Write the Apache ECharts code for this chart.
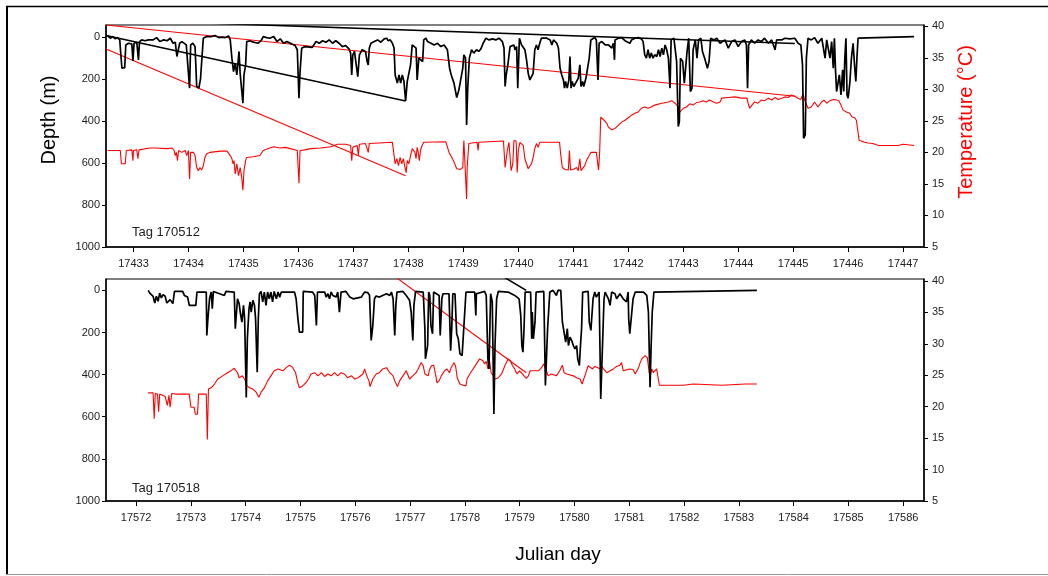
<!DOCTYPE html>
<html><head><meta charset="utf-8">
<script src="https://cdn.jsdelivr.net/npm/echarts@6/dist/echarts.min.js"></script>
<style>html,body{margin:0;padding:0;background:#fff}#c{width:1048px;height:576px}</style>
</head><body><div id="c"></div>
<script>
// ---- tick labels ----
const topDays = [17433,17434,17435,17436,17437,17438,17439,17440,17441,17442,17443,17444,17445,17446,17447];
const botDays = [17572,17573,17574,17575,17576,17577,17578,17579,17580,17581,17582,17583,17584,17585,17586];
const depthTicks = [0,200,400,600,800,1000];
const tempTicks = [5,10,15,20,25,30,35,40];

// ---- Tag 170512 : depth (m) ----
const tag512Depth = [[17432.53,-6],[17432.58,5],[17432.62,-3],[17432.67,8],[17432.71,2],[17432.75,13],[17432.77,84],[17432.79,148],[17432.82,151],[17432.84,145],[17432.86,37],[17432.91,29],[17432.97,33],[17432.99,113],[17433.01,29],[17433.06,24],[17433.09,108],[17433.11,21],[17433.15,13],[17433.21,17],[17433.27,13],[17433.30,5],[17433.36,13],[17433.42,2],[17433.48,21],[17433.55,13],[17433.61,17],[17433.67,5],[17433.72,29],[17433.76,24],[17433.79,92],[17433.81,100],[17433.84,29],[17433.88,21],[17433.96,37],[17433.99,40],[17434.02,243],[17434.04,37],[17434.08,29],[17434.12,45],[17434.15,235],[17434.19,243],[17434.22,196],[17434.25,204],[17434.27,5],[17434.33,-3],[17434.42,-3],[17434.48,-8],[17434.55,2],[17434.61,0],[17434.67,2],[17434.73,-6],[17434.76,13],[17434.79,100],[17434.82,164],[17434.85,124],[17434.88,180],[17434.92,68],[17434.94,172],[17434.97,164],[17434.99,315],[17435.01,180],[17435.04,132],[17435.06,21],[17435.12,17],[17435.18,24],[17435.27,29],[17435.33,13],[17435.36,-3],[17435.42,2],[17435.48,5],[17435.55,-3],[17435.61,21],[17435.67,8],[17435.73,29],[17435.79,21],[17435.88,33],[17435.94,40],[17435.98,60],[17436.01,291],[17436.03,164],[17436.06,52],[17436.12,45],[17436.25,49],[17436.28,37],[17436.32,21],[17436.38,29],[17436.44,17],[17436.50,24],[17436.56,13],[17436.62,29],[17436.68,17],[17436.74,29],[17436.80,45],[17436.86,40],[17436.92,56],[17436.95,76],[17436.97,180],[17436.99,84],[17437.02,68],[17437.05,76],[17437.08,188],[17437.11,84],[17437.16,60],[17437.22,68],[17437.25,116],[17437.27,132],[17437.29,52],[17437.32,29],[17437.38,21],[17437.44,13],[17437.50,24],[17437.56,8],[17437.61,5],[17437.63,17],[17437.67,13],[17437.71,29],[17437.74,52],[17437.76,180],[17437.80,219],[17437.83,180],[17437.86,219],[17437.89,180],[17437.92,211],[17437.95,304],[17437.98,211],[17438.01,211],[17438.04,132],[17438.07,37],[17438.10,37],[17438.14,52],[17438.16,204],[17438.19,100],[17438.22,100],[17438.26,116],[17438.28,13],[17438.32,5],[17438.35,21],[17438.41,29],[17438.47,37],[17438.53,29],[17438.59,45],[17438.65,37],[17438.71,60],[17438.75,148],[17438.78,180],[17438.83,219],[17438.88,288],[17438.92,251],[17438.95,259],[17438.99,148],[17439.01,84],[17439.04,100],[17439.06,418],[17439.08,243],[17439.11,100],[17439.15,60],[17439.19,76],[17439.24,60],[17439.28,68],[17439.32,56],[17439.36,29],[17439.41,5],[17439.47,13],[17439.53,8],[17439.59,13],[17439.65,5],[17439.71,21],[17439.74,52],[17439.76,235],[17439.78,180],[17439.81,132],[17439.85,45],[17439.92,37],[17439.94,60],[17439.97,45],[17439.99,243],[17440.02,5],[17440.06,37],[17440.09,29],[17440.12,60],[17440.15,108],[17440.18,172],[17440.21,204],[17440.24,204],[17440.27,172],[17440.30,60],[17440.33,37],[17440.36,60],[17440.39,29],[17440.42,5],[17440.52,5],[17440.58,13],[17440.61,37],[17440.64,13],[17440.70,29],[17440.73,52],[17440.76,148],[17440.79,180],[17440.82,204],[17440.84,243],[17440.86,211],[17440.89,243],[17440.92,204],[17440.94,92],[17440.96,243],[17440.98,211],[17441.01,235],[17441.06,211],[17441.09,196],[17441.12,132],[17441.14,235],[17441.17,211],[17441.19,235],[17441.23,196],[17441.26,188],[17441.29,100],[17441.32,13],[17441.34,5],[17441.39,2],[17441.42,13],[17441.45,204],[17441.47,29],[17441.52,21],[17441.58,37],[17441.64,37],[17441.70,52],[17441.73,29],[17441.75,108],[17441.76,13],[17441.82,5],[17441.88,2],[17441.94,17],[17441.97,8],[17442.03,29],[17442.06,13],[17442.12,5],[17442.18,2],[17442.24,8],[17442.27,21],[17442.30,84],[17442.33,100],[17442.36,60],[17442.39,100],[17442.42,76],[17442.45,100],[17442.48,84],[17442.52,92],[17442.55,60],[17442.58,92],[17442.61,52],[17442.64,84],[17442.67,37],[17442.70,60],[17442.73,100],[17442.76,243],[17442.78,13],[17442.83,5],[17442.86,13],[17442.88,116],[17442.91,426],[17442.93,402],[17442.95,100],[17442.99,116],[17443.02,219],[17443.04,211],[17443.07,68],[17443.10,5],[17443.13,259],[17443.16,243],[17443.18,60],[17443.22,13],[17443.25,100],[17443.28,13],[17443.32,5],[17443.35,68],[17443.39,100],[17443.44,148],[17443.47,116],[17443.50,5],[17443.56,13],[17443.61,5],[17443.67,29],[17443.70,37],[17443.76,13],[17443.82,52],[17443.88,21],[17443.94,13],[17444.00,45],[17444.06,21],[17444.12,13],[17444.15,37],[17444.17,243],[17444.19,37],[17444.24,13],[17444.30,29],[17444.36,13],[17444.42,21],[17444.48,5],[17444.55,29],[17444.61,13],[17444.67,60],[17444.70,13],[17444.79,13],[17444.85,5],[17444.94,8],[17445.03,5],[17445.09,29],[17445.14,37],[17445.17,132],[17445.19,482],[17445.22,466],[17445.24,100],[17445.27,5],[17445.33,13],[17445.39,2],[17445.45,29],[17445.52,5],[17445.58,100],[17445.61,13],[17445.67,100],[17445.70,21],[17445.73,148],[17445.75,5],[17445.77,156],[17445.79,259],[17445.82,267],[17445.84,180],[17445.87,275],[17445.90,156],[17445.92,259],[17445.94,100],[17445.96,5],[17445.98,275],[17446.00,291],[17446.03,219],[17446.06,100],[17446.09,29],[17446.12,148],[17446.14,211],[17446.16,100],[17446.18,5],[17446.20,-3],[17447.20,-3]];

// ---- Tag 170512 : temperature (°C) ----
const tag512Temp = [[17432.53,20.3],[17432.76,20.3],[17432.78,18.2],[17432.85,18.2],[17432.87,20.3],[17432.97,20.4],[17432.99,18.7],[17433.00,20.3],[17433.06,20.4],[17433.08,19.0],[17433.10,20.4],[17433.12,20.7],[17433.30,20.7],[17433.33,20.4],[17433.39,20.7],[17433.61,20.6],[17433.70,20.7],[17433.74,20.3],[17433.76,19.5],[17433.78,20.0],[17433.80,18.7],[17433.82,20.3],[17433.88,20.0],[17433.94,20.3],[17433.97,19.5],[17434.00,20.3],[17434.02,15.8],[17434.04,20.0],[17434.09,20.0],[17434.12,19.5],[17434.15,17.6],[17434.18,17.1],[17434.21,17.6],[17434.24,17.2],[17434.27,17.9],[17434.30,19.2],[17434.33,19.8],[17434.39,20.0],[17434.58,20.2],[17434.70,20.2],[17434.76,19.5],[17434.79,19.0],[17434.81,18.2],[17434.83,18.7],[17434.85,16.6],[17434.88,18.2],[17434.91,16.3],[17434.94,17.6],[17434.97,16.0],[17434.99,14.0],[17435.01,17.1],[17435.04,18.7],[17435.06,19.2],[17435.18,19.3],[17435.30,19.5],[17435.36,20.3],[17435.39,20.6],[17435.48,20.7],[17435.55,20.9],[17435.67,20.7],[17435.76,20.8],[17435.85,20.6],[17435.98,20.3],[17436.01,15.1],[17436.03,20.3],[17436.12,20.4],[17436.22,20.6],[17436.41,20.7],[17436.59,20.9],[17436.71,21.3],[17436.86,21.3],[17436.95,21.1],[17436.97,18.7],[17436.99,20.8],[17437.07,21.1],[17437.09,19.5],[17437.11,21.3],[17437.22,21.4],[17437.25,20.6],[17437.27,20.0],[17437.29,21.4],[17437.32,21.6],[17437.71,21.6],[17437.74,21.4],[17437.76,18.2],[17437.79,19.0],[17437.82,17.9],[17437.85,19.2],[17437.88,18.2],[17437.91,19.0],[17437.94,17.6],[17437.96,16.8],[17437.98,18.7],[17438.01,18.2],[17438.04,19.5],[17438.07,20.6],[17438.09,20.8],[17438.12,20.0],[17438.14,19.0],[17438.16,20.8],[17438.18,20.0],[17438.20,18.7],[17438.22,20.3],[17438.25,21.1],[17438.28,21.6],[17438.68,21.7],[17438.71,21.5],[17438.74,20.0],[17438.77,19.5],[17438.82,18.7],[17438.84,18.4],[17438.88,17.4],[17438.95,17.3],[17438.99,17.6],[17439.01,21.9],[17439.04,21.8],[17439.06,12.6],[17439.07,17.6],[17439.10,21.4],[17439.25,21.6],[17439.27,20.3],[17439.28,21.6],[17439.73,21.8],[17439.76,17.6],[17439.78,17.4],[17439.80,20.3],[17439.83,21.6],[17439.87,17.1],[17439.90,18.2],[17439.92,21.9],[17439.96,21.8],[17439.98,16.8],[17440.00,20.3],[17440.03,21.6],[17440.06,21.8],[17440.09,21.1],[17440.12,19.0],[17440.15,18.2],[17440.18,17.4],[17440.21,17.6],[17440.24,18.2],[17440.27,19.2],[17440.30,20.6],[17440.33,21.4],[17440.36,20.8],[17440.39,21.6],[17440.42,21.8],[17440.75,21.6],[17440.77,19.8],[17440.80,17.6],[17440.85,17.3],[17440.91,17.2],[17440.93,20.3],[17440.95,17.2],[17441.00,17.3],[17441.06,17.6],[17441.09,17.1],[17441.12,19.0],[17441.14,17.1],[17441.17,17.4],[17441.21,17.9],[17441.24,18.7],[17441.29,19.5],[17441.32,20.0],[17441.42,20.0],[17441.46,17.2],[17441.48,20.0],[17441.50,25.6],[17441.53,25.9],[17441.56,25.1],[17441.58,25.4],[17441.61,24.6],[17441.64,24.0],[17441.70,23.6],[17441.76,23.8],[17441.82,24.3],[17441.88,24.8],[17441.94,25.1],[17442.00,25.5],[17442.06,25.9],[17442.12,26.2],[17442.18,26.4],[17442.24,27.0],[17442.30,27.2],[17442.36,27.0],[17442.42,27.2],[17442.48,27.5],[17442.61,27.8],[17442.73,28.0],[17442.79,28.2],[17442.85,27.8],[17442.88,28.0],[17442.91,27.2],[17442.94,26.4],[17443.00,27.0],[17443.06,27.2],[17443.12,27.7],[17443.18,27.5],[17443.24,27.9],[17443.30,28.0],[17443.36,28.2],[17443.42,28.0],[17443.48,28.3],[17443.55,28.0],[17443.61,27.8],[17443.67,28.0],[17443.70,28.6],[17443.82,28.7],[17443.94,28.8],[17444.06,28.6],[17444.16,28.6],[17444.18,27.8],[17444.21,27.0],[17444.25,27.5],[17444.30,28.0],[17444.36,27.8],[17444.42,28.3],[17444.48,28.2],[17444.55,28.6],[17444.61,28.3],[17444.67,28.7],[17444.73,28.4],[17444.79,28.6],[17444.85,28.8],[17444.91,28.7],[17444.97,29.1],[17445.03,28.9],[17445.09,28.6],[17445.14,28.4],[17445.18,29.3],[17445.21,28.3],[17445.24,28.0],[17445.27,27.0],[17445.33,27.2],[17445.39,28.0],[17445.42,27.8],[17445.45,27.2],[17445.52,28.0],[17445.56,28.3],[17445.61,27.8],[17445.67,28.2],[17445.73,28.4],[17445.79,28.3],[17445.83,28.2],[17445.87,27.5],[17445.91,26.7],[17445.97,26.4],[17446.03,26.2],[17446.07,25.6],[17446.12,25.5],[17446.15,25.1],[17446.18,25.4],[17446.20,21.9],[17446.24,21.8],[17446.30,21.6],[17446.36,21.5],[17446.45,21.4],[17446.55,21.1],[17446.91,21.1],[17446.94,21.4],[17447.00,21.3],[17447.03,21.1],[17447.20,21.1]];

// ---- Tag 170512 : straight joins drawn by the original file ----
const tag512DepthJoinA = [[17432.5,-8],[17437.95,304]];
const tag512DepthJoinB = [[17432.5,-84],[17445.03,30]];
const tag512TempJoinA = [[17432.5,36.4],[17437.95,16.3]];
const tag512TempJoinB = [[17432.5,40.2],[17445.03,28.9]];

// ---- Tag 170518 : depth (m) ----
const tag518Depth = [[17572.22,0],[17572.25,13],[17572.28,5],[17572.31,28],[17572.34,60],[17572.37,28],[17572.40,52],[17572.43,13],[17572.46,36],[17572.49,20],[17572.53,28],[17572.56,60],[17572.59,60],[17572.62,44],[17572.64,40],[17572.67,63],[17572.70,5],[17572.85,5],[17572.88,24],[17572.94,32],[17572.97,71],[17573.09,71],[17573.11,8],[17573.28,8],[17573.29,214],[17573.31,135],[17573.34,40],[17573.37,8],[17573.39,87],[17573.41,5],[17573.61,24],[17573.64,5],[17573.79,8],[17573.81,182],[17573.84,190],[17573.85,40],[17573.88,63],[17573.90,103],[17573.93,151],[17573.96,71],[17573.98,135],[17574.01,508],[17574.03,230],[17574.06,87],[17574.08,55],[17574.10,103],[17574.13,47],[17574.16,71],[17574.18,135],[17574.21,389],[17574.23,135],[17574.25,16],[17574.28,5],[17574.31,55],[17574.34,8],[17574.37,71],[17574.40,8],[17574.43,40],[17574.46,8],[17574.49,55],[17574.52,5],[17574.56,40],[17574.59,8],[17574.62,32],[17574.65,8],[17574.89,8],[17574.92,40],[17574.95,127],[17574.98,198],[17575.04,198],[17575.05,5],[17575.22,8],[17575.26,24],[17575.29,167],[17575.31,8],[17575.44,8],[17575.47,32],[17575.50,16],[17575.53,40],[17575.56,8],[17575.59,24],[17575.62,16],[17575.65,32],[17575.68,8],[17575.71,103],[17575.74,8],[17575.83,5],[17575.90,32],[17575.96,40],[17576.11,32],[17576.17,8],[17576.20,16],[17576.23,11],[17576.26,24],[17576.29,238],[17576.32,167],[17576.35,40],[17576.38,27],[17576.44,32],[17576.50,24],[17576.57,16],[17576.63,24],[17576.66,8],[17576.69,40],[17576.72,214],[17576.74,71],[17576.76,8],[17576.87,5],[17576.93,24],[17576.99,47],[17577.02,103],[17577.05,238],[17577.07,71],[17577.10,5],[17577.24,8],[17577.27,182],[17577.28,325],[17577.32,262],[17577.34,8],[17577.36,24],[17577.38,167],[17577.41,206],[17577.43,8],[17577.53,24],[17577.55,214],[17577.58,40],[17577.60,16],[17577.71,16],[17577.74,286],[17577.76,182],[17577.78,16],[17577.82,16],[17577.85,206],[17577.88,230],[17577.91,301],[17577.95,309],[17577.98,301],[17578.02,8],[17578.18,8],[17578.20,119],[17578.21,16],[17578.36,5],[17578.39,24],[17578.42,325],[17578.44,373],[17578.47,16],[17578.50,55],[17578.53,587],[17578.55,262],[17578.58,40],[17578.61,5],[17578.79,8],[17578.85,16],[17578.91,24],[17578.94,16],[17578.99,40],[17579.02,119],[17579.04,262],[17579.06,293],[17579.08,182],[17579.10,8],[17579.20,8],[17579.22,230],[17579.23,103],[17579.25,230],[17579.28,151],[17579.30,8],[17579.44,5],[17579.47,452],[17579.49,452],[17579.51,182],[17579.55,8],[17579.61,0],[17579.67,24],[17579.70,0],[17579.75,0],[17579.78,151],[17579.81,198],[17579.84,246],[17579.87,182],[17579.89,262],[17579.92,222],[17579.95,238],[17579.98,262],[17580.01,278],[17580.04,262],[17580.06,325],[17580.09,357],[17580.11,262],[17580.13,182],[17580.15,8],[17580.25,5],[17580.27,151],[17580.30,190],[17580.33,182],[17580.34,40],[17580.37,8],[17580.40,32],[17580.45,8],[17580.48,516],[17580.51,516],[17580.54,40],[17580.56,8],[17580.62,40],[17580.65,71],[17580.68,8],[17580.74,16],[17580.77,40],[17580.83,16],[17580.89,40],[17580.95,55],[17580.98,8],[17580.99,135],[17581.01,206],[17581.04,206],[17581.07,40],[17581.11,8],[17581.26,8],[17581.32,24],[17581.35,103],[17581.38,460],[17581.40,262],[17581.42,103],[17581.45,8],[17581.47,0],[17583.33,0]];

// ---- Tag 170518 : temperature (°C) ----
const tag518Temp = [[17572.22,22.2],[17572.31,22.2],[17572.33,18.1],[17572.35,22.1],[17572.39,22.0],[17572.41,19.2],[17572.43,22.0],[17572.53,21.6],[17572.56,21.8],[17572.57,20.2],[17572.60,21.8],[17572.62,19.9],[17572.65,22.1],[17572.73,22.0],[17572.97,22.0],[17573.00,19.9],[17573.06,19.9],[17573.08,18.8],[17573.12,18.8],[17573.14,22.0],[17573.28,22.0],[17573.30,14.8],[17573.32,22.8],[17573.37,23.0],[17573.43,23.6],[17573.49,24.4],[17573.58,24.9],[17573.67,25.4],[17573.73,25.7],[17573.79,26.1],[17573.85,25.4],[17573.88,24.6],[17573.94,24.9],[17573.98,24.4],[17574.02,23.4],[17574.07,23.0],[17574.13,22.8],[17574.19,22.3],[17574.24,21.5],[17574.28,22.3],[17574.34,23.0],[17574.40,24.1],[17574.46,24.9],[17574.52,25.7],[17574.59,26.0],[17574.68,25.7],[17574.74,26.2],[17574.80,26.6],[17574.86,26.2],[17574.91,25.4],[17574.95,23.8],[17574.98,23.0],[17575.04,23.3],[17575.10,23.8],[17575.16,24.6],[17575.19,25.2],[17575.26,25.4],[17575.32,24.9],[17575.38,25.4],[17575.44,24.8],[17575.50,25.2],[17575.56,24.9],[17575.62,25.4],[17575.68,24.9],[17575.74,25.4],[17575.80,25.2],[17575.86,24.6],[17575.93,24.9],[17575.99,24.4],[17576.05,24.6],[17576.14,25.2],[17576.17,26.0],[17576.21,24.9],[17576.25,24.1],[17576.27,23.2],[17576.32,24.4],[17576.38,25.2],[17576.44,25.4],[17576.50,26.0],[17576.57,26.2],[17576.63,25.4],[17576.69,24.9],[17576.72,24.1],[17576.77,23.2],[17576.81,24.1],[17576.87,24.9],[17576.93,25.7],[17576.99,24.4],[17577.05,24.9],[17577.11,25.4],[17577.17,26.4],[17577.20,27.0],[17577.24,26.5],[17577.27,25.2],[17577.33,24.9],[17577.36,26.0],[17577.39,26.5],[17577.43,26.6],[17577.47,24.9],[17577.49,23.8],[17577.53,24.1],[17577.57,24.9],[17577.63,25.7],[17577.67,26.0],[17577.72,25.4],[17577.75,26.2],[17577.80,27.0],[17577.83,26.5],[17577.86,24.6],[17577.91,23.6],[17577.97,23.4],[17578.02,23.3],[17578.04,24.4],[17578.09,25.2],[17578.15,26.0],[17578.21,26.8],[17578.27,27.6],[17578.33,27.3],[17578.36,26.8],[17578.39,27.2],[17578.42,26.0],[17578.45,27.3],[17578.48,25.4],[17578.52,24.9],[17578.55,24.4],[17578.58,24.1],[17578.61,24.6],[17578.67,25.2],[17578.73,26.5],[17578.79,27.6],[17578.83,27.3],[17578.87,26.5],[17578.91,26.0],[17578.95,25.2],[17579.00,25.7],[17579.05,25.2],[17579.08,24.9],[17579.12,24.5],[17579.16,24.9],[17579.19,25.7],[17579.22,26.0],[17579.34,25.7],[17579.40,26.2],[17579.44,26.8],[17579.47,27.1],[17579.49,25.7],[17579.52,24.9],[17579.58,25.2],[17579.61,24.9],[17579.67,24.9],[17579.73,25.7],[17579.78,26.6],[17579.81,25.4],[17579.86,25.2],[17579.98,24.9],[17580.04,24.6],[17580.10,24.4],[17580.14,23.6],[17580.19,24.9],[17580.22,25.7],[17580.25,26.5],[17580.28,26.2],[17580.33,26.0],[17580.37,26.4],[17580.43,26.2],[17580.47,26.0],[17580.50,26.4],[17580.53,26.0],[17580.59,25.4],[17580.65,25.7],[17580.71,26.0],[17580.77,26.4],[17580.83,26.6],[17580.86,27.0],[17580.89,25.7],[17581.01,26.0],[17581.07,25.9],[17581.11,25.2],[17581.14,25.4],[17581.17,26.2],[17581.20,27.0],[17581.23,27.6],[17581.29,28.1],[17581.33,27.8],[17581.36,25.7],[17581.38,24.6],[17581.41,26.0],[17581.44,25.4],[17581.47,25.4],[17581.50,26.0],[17581.53,26.2],[17581.55,23.4],[17581.99,23.4],[17582.02,23.6],[17582.17,23.6],[17582.20,23.4],[17582.69,23.4],[17582.72,23.6],[17583.12,23.6],[17583.13,23.7],[17583.15,23.6],[17583.33,23.6]];

// ---- Tag 170518 : straight joins drawn by the original file ----
const tag518DepthJoin = [[17578.5,-96],[17579.12,0]];
const tag518TempJoin = [[17576.0,45.3],[17579.12,25.4]];

const FONT = 'Liberation Sans, Arial, sans-serif';
const TXT = '#222';

function xAx(gi, min, max, ticks){
  return {type:'value', gridIndex:gi, min:min, max:max,
    axisLine:{show:true, onZero:false, lineStyle:{color:'#000', width:1.5}},
    axisTick:{show:true, inside:false, length:5, customValues:ticks, lineStyle:{color:'#000', width:1}},
    axisLabel:{show:true, customValues:ticks, margin:11, color:TXT, fontSize:11, fontFamily:FONT, formatter:v=>String(v)},
    splitLine:{show:false}};
}
function depthAx(gi, min){
  return {type:'value', gridIndex:gi, position:'left', inverse:true, min:min, max:1000,
    axisLine:{show:true, onZero:false, lineStyle:{color:'#000', width:1.5}},
    axisTick:{show:true, inside:false, length:4, customValues:depthTicks, lineStyle:{color:'#000', width:1}},
    axisLabel:{show:true, customValues:depthTicks, margin:6, color:TXT, fontSize:11, fontFamily:FONT, formatter:v=>String(v)},
    splitLine:{show:false}};
}
function tempAx(gi, max){
  return {type:'value', gridIndex:gi, position:'right', min:5, max:max,
    axisLine:{show:true, onZero:false, lineStyle:{color:'#000', width:1.5}},
    axisTick:{show:true, inside:false, length:4, customValues:tempTicks, lineStyle:{color:'#000', width:1}},
    axisLabel:{show:true, customValues:tempTicks, margin:8, color:TXT, fontSize:11, fontFamily:FONT, formatter:v=>String(v)},
    splitLine:{show:false}};
}
function ln(data, xi, yi, color, w, z){
  return {type:'line', data:data, xAxisIndex:xi, yAxisIndex:yi, showSymbol:false, symbol:'none',
    lineStyle:{color:color, width:w}, itemStyle:{color:color}, clip:true, z:z, silent:true, animation:false};
}

const chart = echarts.init(document.getElementById('c'), null, {renderer:'canvas'});
chart.setOption({
  animation:false,
  backgroundColor:'#fff',
  grid:[
    {left:106, top:25, width:818, height:222, show:true, borderColor:'#000', borderWidth:1, containLabel:false},
    {left:106, top:279, width:818, height:222, show:true, borderColor:'#000', borderWidth:1, containLabel:false}
  ],
  xAxis:[ xAx(0, 17432.5, 17447.38, topDays), xAx(1, 17571.45, 17586.38, botDays) ],
  yAxis:[ depthAx(0, -58), tempAx(0, 40.2), depthAx(1, -54), tempAx(1, 40.3) ],
  series:[
    ln(tag512Temp, 0, 1, '#ff0000', 1.1, 2),
    ln(tag512TempJoinA, 0, 1, '#ff0000', 1.1, 2),
    ln(tag512TempJoinB, 0, 1, '#ff0000', 1.1, 2),
    ln(tag512Depth, 0, 0, '#000000', 1.7, 3),
    ln(tag512DepthJoinA, 0, 0, '#000000', 1.6, 3),
    ln(tag512DepthJoinB, 0, 0, '#000000', 1.6, 3),
    ln(tag518Temp, 1, 3, '#ff0000', 1.1, 2),
    ln(tag518TempJoin, 1, 3, '#ff0000', 1.1, 2),
    ln(tag518Depth, 1, 2, '#000000', 1.7, 3),
    ln(tag518DepthJoin, 1, 2, '#000000', 1.6, 3)
  ],
  graphic:[
    {type:'line', shape:{x1:7, y1:6, x2:7, y2:575}, style:{stroke:'#000', lineWidth:2}},
    {type:'line', shape:{x1:6, y1:6.5, x2:1048, y2:6.5}, style:{stroke:'#000', lineWidth:1.5}},
    {type:'line', shape:{x1:6, y1:574.5, x2:1048, y2:574.5}, style:{stroke:'#999', lineWidth:1}},
    {type:'text', x:49, y:120, rotation:Math.PI/2, style:{text:'Depth (m)', fill:'#000', font:'20px '+FONT, textAlign:'center', textVerticalAlign:'middle'}},
    {type:'text', x:966, y:122, rotation:Math.PI/2, style:{text:'Temperature (°C)', fill:'#ff0000', font:'20px '+FONT, textAlign:'center', textVerticalAlign:'middle'}},
    {type:'text', x:558, y:555, style:{text:'Julian day', fill:'#000', font:'19px '+FONT, textAlign:'center', textVerticalAlign:'middle'}},
    {type:'text', x:132, y:232, style:{text:'Tag 170512', fill:'#222', font:'13px '+FONT, textAlign:'left', textVerticalAlign:'middle'}},
    {type:'text', x:132, y:488, style:{text:'Tag 170518', fill:'#222', font:'13px '+FONT, textAlign:'left', textVerticalAlign:'middle'}}
  ]
});
</script></body></html>
